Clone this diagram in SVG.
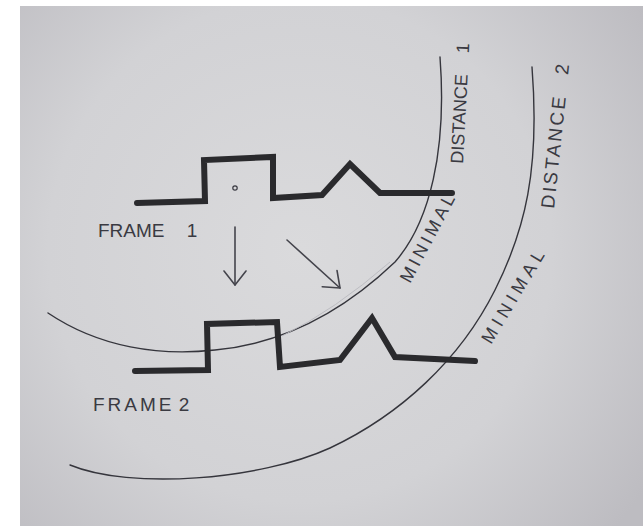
<svg xmlns="http://www.w3.org/2000/svg" width="643" height="526" viewBox="0 0 643 526">
  <defs>
    <radialGradient id="paper" cx="300" cy="250" r="420" gradientUnits="userSpaceOnUse">
      <stop offset="0" stop-color="#dadadc"/>
      <stop offset="0.6" stop-color="#d2d2d5"/>
      <stop offset="1" stop-color="#bdbcc1"/>
    </radialGradient>
    <marker id="head" markerUnits="userSpaceOnUse" markerWidth="30" markerHeight="30" refX="0" refY="0" viewBox="-20 -15 24 30" orient="auto">
      <path d="M-14,-11 L0,0 L-14,11" fill="none" stroke="#44444c" stroke-width="1.6" stroke-linecap="round" stroke-linejoin="round"/>
    </marker>
    <style>
      .wave { fill: none; stroke: #2a2a2d; stroke-width: 6; stroke-linejoin: miter; stroke-linecap: round; }
      .arc { fill: none; stroke: #35353c; stroke-width: 1.4; stroke-linecap: round; }
      .faint { fill: none; stroke: #b9b9be; stroke-width: 0.9; }
      .conn { fill: none; stroke: #44444c; stroke-width: 1.6; stroke-linecap: round; }
      .lbl { font-family: "Liberation Sans", Arial, sans-serif; fill: #3a3a42; }
    </style>
  </defs>

  <rect x="0" y="0" width="643" height="526" fill="#ffffff"/>
  <rect x="20" y="6" width="623" height="520" fill="url(#paper)"/>

  <g id="arc1">
    <path class="arc" d="M48,313 C100,348 160,356 215,350 C290,343 350,305 395,262 C430,222 447,150 440,57"/>
    <path class="faint" d="M282,336 Q335,310 390,262"/>
    <text class="lbl" font-size="18" transform="translate(410,284) rotate(-62)" textLength="97" lengthAdjust="spacing">MINIMAL</text>
    <text class="lbl" font-size="18" word-spacing="16" transform="translate(463,164) rotate(-87)">DISTANCE 1</text>
  </g>

  <g id="arc2">
    <path class="arc" d="M70,465 C130,490 260,480 330,448 C400,415 460,360 495,290 C525,230 540,170 532,67"/>
    <text class="lbl" font-size="18" transform="translate(491,345) rotate(-59)" textLength="105" lengthAdjust="spacing">MINIMAL</text>
    <text class="lbl" font-size="19" letter-spacing="2.5" word-spacing="12" transform="translate(554,209) rotate(-84)">DISTANCE 2</text>
  </g>

  <g id="frame1">
    <path class="wave" d="M137,203 L205,201 L204,160 L273,157 L273,198 L322,195 L350,164 L380,193 L452,193"/>
    <circle cx="235" cy="188" r="2.2" fill="none" stroke="#3a3a42" stroke-width="1.2"/>
    <text class="lbl" x="98" y="237" font-size="19" word-spacing="17">FRAME 1</text>
  </g>

  <g id="frame2">
    <path class="wave" d="M135,371 L208,370 L207,324 L277,322 L280,367 L340,360 L372,318 L395,357 L475,361"/>
    <text class="lbl" x="93" y="411" font-size="19" letter-spacing="3" word-spacing="-4">FRAME 2</text>
  </g>

  <g id="connectors">
    <line class="conn" x1="235" y1="227" x2="235" y2="285" marker-end="url(#head)"/>
    <line class="conn" x1="287" y1="240" x2="340" y2="288" marker-end="url(#head)"/>
  </g>
</svg>
